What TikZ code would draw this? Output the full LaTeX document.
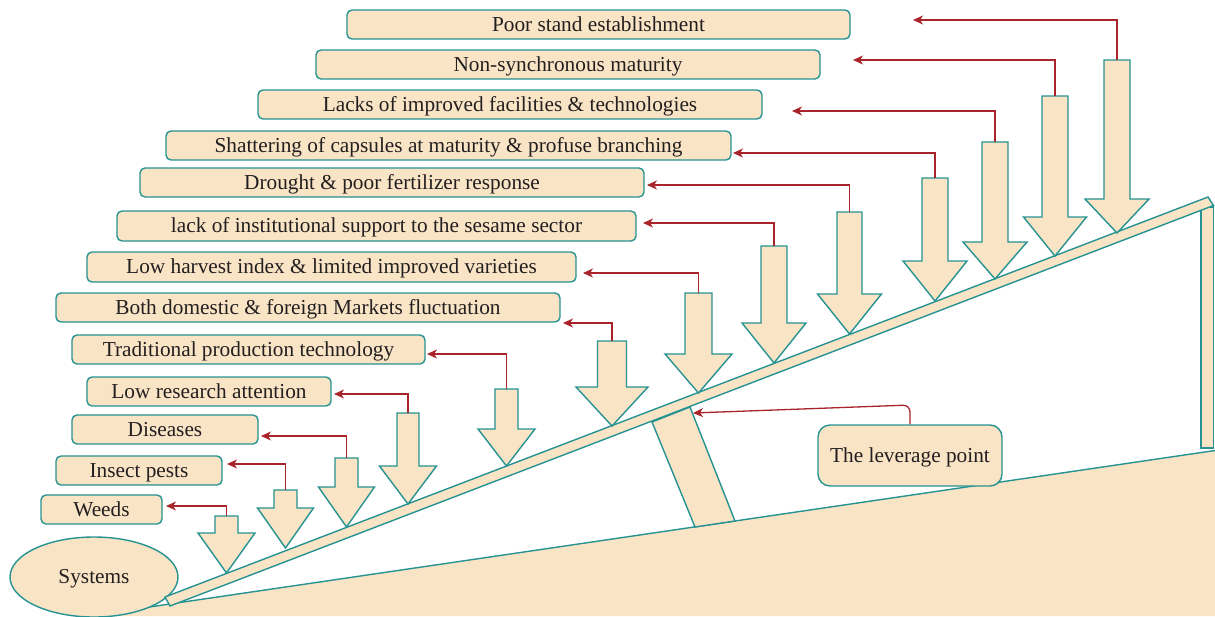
\documentclass[tikz,border=0pt]{standalone}
\usepackage{fontspec}
\setmainfont{Liberation Serif}
\usetikzlibrary{arrows.meta,shapes.geometric}
\definecolor{beige}{RGB}{249,228,198}
\definecolor{tealb}{RGB}{38,146,145}
\definecolor{redc}{RGB}{168,36,42}
\definecolor{txt}{RGB}{35,31,32}
\tikzset{
  box/.style={draw=tealb, fill=beige, line width=1.4pt, rounded corners=5pt, inner sep=0pt,
    text=txt, font=\fontsize{21.3}{25}\selectfont, text height=15pt, text depth=2pt},
  shapefill/.style={draw=tealb, fill=beige, line width=1.4pt, line join=miter},
  conn/.style={draw=redc, line width=1.3pt, -{Stealth[length=10pt,width=9pt,inset=3pt]}},
}
\newcommand{\blockarw}[7]{%
  \draw[shapefill] ({#2-#3},#5) -- ({#2+#3},#5) -- ({#2+#3},#6) -- ({#2+#4},#6) -- (#2,#7) -- ({#2-#4},#6) -- ({#2-#3},#6) -- cycle;
  \coordinate (#1) at (#2,#5);}
\begin{document}
\begin{tikzpicture}[x=1pt,y=-1pt]
\useasboundingbox (0,0) rectangle (1215,616);
% ground
\fill[beige] (88,616) -- (1215,450.5) -- (1215,616) -- cycle;
\draw[tealb, line width=1.4pt] (88,616) -- (1215,450.5);
% systems ellipse
\node[box, ellipse, rounded corners=0pt, minimum width=168pt, minimum height=80pt] (sys) at (94,577) {Systems};
% fulcrum
\draw[shapefill] (652,422) -- (690,407) -- (735,521) -- (695,527) -- cycle;
% right support
\draw[shapefill] (1201,207) rectangle (1213.5,448);
% plank
\draw[shapefill] (165,597) -- (1208,197) -- (1213.5,205.5) -- (170,606) -- cycle;
% block arrows: name, cx, half shaft, half head, top, head top, tip
\blockarw{s1}{226.5}{11.5}{28.5}{516}{533}{573}
\blockarw{s2}{285.5}{11.5}{28}{490}{508}{548}
\blockarw{s3}{346.5}{11.5}{28}{458}{487}{527}
\blockarw{s4}{408}{11}{28.5}{413}{466}{504}
\blockarw{s5}{506.5}{11.5}{28.5}{389}{429}{466}
\blockarw{s6}{612}{14.5}{36}{341}{387}{426}
\blockarw{s7}{698.5}{13.5}{33.5}{293}{354}{393}
\blockarw{s8}{774}{13}{32}{246}{323}{363}
\blockarw{s9}{849.5}{12.5}{32}{212}{294}{334}
\blockarw{s10}{935}{13}{32}{178}{261}{301}
\blockarw{s11}{995}{13}{32}{142}{242}{279}
\blockarw{s12}{1055}{13}{31.5}{96}{217}{256}
\blockarw{s13}{1117}{13}{32}{60}{199}{233}
% boxes
\node[box, minimum width=503pt, minimum height=29pt] (b1) at (598.5,24.5) {Poor stand establishment};
\node[box, minimum width=504pt, minimum height=29pt] (b2) at (568,64.5) {Non-synchronous maturity};
\node[box, minimum width=504pt, minimum height=29pt] (b3) at (510,104.5) {Lacks of improved facilities \& technologies};
\node[box, minimum width=565pt, minimum height=29pt] (b4) at (448.5,145.5) {Shattering of capsules at maturity \& profuse branching};
\node[box, minimum width=504pt, minimum height=29pt] (b5) at (392,182.5) {Drought \& poor fertilizer response};
\node[box, minimum width=519pt, minimum height=30pt] (b6) at (376.5,226) {lack of institutional support to the sesame sector};
\node[box, minimum width=489pt, minimum height=30pt] (b7) at (331.5,267) {Low harvest index \& limited improved varieties};
\node[box, minimum width=504pt, minimum height=29pt] (b8) at (308,307.5) {Both domestic \& foreign Markets fluctuation};
\node[box, minimum width=353pt, minimum height=29pt] (b9) at (248.5,349.5) {Traditional production technology};
\node[box, minimum width=244pt, minimum height=29pt] (b10) at (209,391.5) {Low research attention};
\node[box, minimum width=186pt, minimum height=29pt] (b11) at (165,429.5) {Diseases};
\node[box, minimum width=166pt, minimum height=29pt] (b12) at (139,470.5) {Insect pests};
\node[box, minimum width=121pt, minimum height=29pt] (b13) at (101.5,509.5) {Weeds};
\node[box, rounded corners=12pt, minimum width=184pt, minimum height=61pt] (lev) at (910,455.5) {The leverage point};
% connector ends
\coordinate (t1) at (166,506);
\coordinate (t2) at (227,464);
\coordinate (t3) at (261,436);
\coordinate (t4) at (334,394);
\coordinate (t5) at (427,354);
\coordinate (t6) at (563,323);
\coordinate (t7) at (583,273);
\coordinate (t8) at (643,223);
\coordinate (t9) at (647,185);
\coordinate (t10) at (733,153);
\coordinate (t11) at (792,111);
\coordinate (t12) at (853,60);
\coordinate (t13) at (913,20);
\coordinate (tl) at (693,413);
\foreach \i in {1,...,13} {\draw[conn] (s\i) |- (t\i);}
\draw[conn, rounded corners=7pt] (lev.north) -- (910,405) -- (tl);
\end{tikzpicture}
\end{document}
